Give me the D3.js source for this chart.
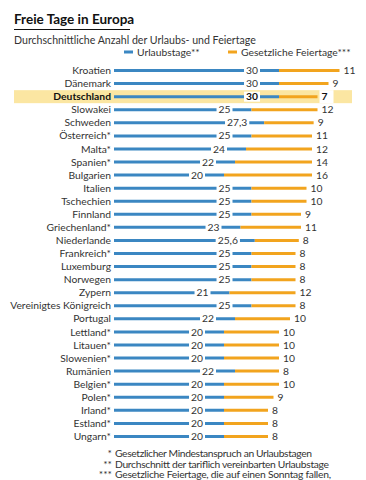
<!DOCTYPE html>
<html>
<head>
<meta charset="utf-8">
<script src="https://cdn.jsdelivr.net/npm/d3@7"></script>
<style>
  body { margin: 0; background: #fff; }
  text { font-family: Lato, "Open Sans", sans-serif; }
</style>
</head>
<body>
<div class="chart"></div>
<script>
// data
var countries = ["Kroatien", "Dänemark", "Deutschland", "Slowakei", "Schweden", "Österreich*",
  "Malta*", "Spanien*", "Bulgarien", "Italien", "Tschechien", "Finnland", "Griechenland*",
  "Niederlande", "Frankreich*", "Luxemburg", "Norwegen", "Zypern", "Vereinigtes Königreich",
  "Portugal", "Lettland*", "Litauen*", "Slowenien*", "Rumänien", "Belgien*", "Polen*",
  "Irland*", "Estland*", "Ungarn*"];
var urlaub = [30, 30, 30, 25, 27.3, 25, 24, 22, 20, 25, 25, 25, 23, 25.6, 25, 25, 25, 21, 25,
  22, 20, 20, 20, 22, 20, 20, 20, 20, 20];
var feiertage = [11, 9, 7, 12, 9, 11, 12, 14, 16, 10, 10, 9, 11, 8, 8, 8, 8, 12, 8, 10, 10, 10,
  10, 8, 10, 9, 8, 8, 8];
var highlight = "Deutschland";
var seriesNames = ["Urlaubstage**", "Gesetzliche Feiertage***"];
var notes = [["*", "Gesetzlicher Mindestanspruch an Urlaubstagen"],
  ["**", "Durchschnitt der tariflich vereinbarten Urlaubstage"],
  ["***", "Gesetzliche Feiertage, die auf einen Sonntag fallen,"]];

var blue = "#3b87c2", orange = "#f2a41e", band = "#fbe6a2";
var fs = 10.3;

var svgWidth = 366, svgHeight = 480;
var svg = d3.select(".chart").append("svg")
  .attr("width", svgWidth)
  .attr("height", svgHeight);

// title
svg.append("text")
  .attr("x", 14).attr("y", 24)
  .attr("font-size", 13.5).attr("font-weight", "bold").attr("fill", "#111")
  .text("Freie Tage in Europa");
svg.append("line")
  .attr("x1", 14).attr("x2", 130).attr("y1", 29.5).attr("y2", 29.5)
  .attr("stroke", "#111").attr("stroke-width", 1);
svg.append("text")
  .attr("x", 14).attr("y", 44)
  .attr("font-size", 10.6).attr("fill", "#333")
  .text("Durchschnittliche Anzahl der Urlaubs- und Feiertage");

// legend
var legend = svg.append("g").selectAll("g")
  .data(seriesNames)
  .enter().append("g")
  .attr("transform", (d, i) => `translate(${i ? 228 : 124}, 55.5)`);
legend.append("line")
  .attr("x1", 0).attr("x2", 9).attr("y1", -3.5).attr("y2", -3.5)
  .attr("stroke", (d, i) => i ? orange : blue).attr("stroke-width", 3);
legend.append("text")
  .attr("x", 13).attr("font-size", fs).attr("fill", "#333")
  .text(d => d);

// scales
var x = d3.scaleLinear().domain([0, 41]).range([114, 114 + 5.5 * 41]);
var y = d3.scaleBand().domain(countries).range([64, 443]).padding(0);
var bw = y.bandwidth();

var rows = svg.append("g").selectAll("g")
  .data(countries)
  .enter().append("g")
  .attr("transform", d => `translate(0, ${y(d) + bw / 2})`);

// highlight band
rows.filter(d => d === highlight).append("rect")
  .attr("x", 14).attr("y", -6.5)
  .attr("width", 352 - 14).attr("height", 13)
  .attr("fill", band);

// blue bars
rows.append("line")
  .attr("x1", x(0))
  .attr("x2", (d, i) => x(urlaub[i]))
  .attr("stroke", blue).attr("stroke-width", 3);

// orange bars
rows.append("line")
  .attr("x1", (d, i) => x(urlaub[i]))
  .attr("x2", (d, i) => x(urlaub[i] + feiertage[i]))
  .attr("stroke", orange).attr("stroke-width", 3);

// country labels
rows.append("text")
  .attr("x", 111).attr("dy", "0.35em")
  .attr("text-anchor", "end").attr("font-size", fs)
  .attr("fill", d => d === highlight ? "#111" : "#333")
  .attr("font-weight", d => d === highlight ? "bold" : "normal")
  .text(d => d);

var fmt = v => String(v).replace(".", ",");

// value labels, the blue one sits on a white box inside the bar
rows.each(function(d, i) {
  var g = d3.select(this);
  var bold = d === highlight;
  var t = g.append("text")
    .attr("x", x(urlaub[i]) - 27).attr("dy", "0.35em")
    .attr("text-anchor", "middle").attr("font-size", fs)
    .attr("font-weight", bold ? "bold" : "normal")
    .attr("fill", bold ? "#111" : "#333")
    .text(fmt(urlaub[i]));
  var b = t.node().getBBox();
  g.insert("rect", "text")
    .attr("x", b.x - 2).attr("y", -5).attr("width", b.width + 4).attr("height", 10)
    .attr("fill", "#fff");

  var t2 = g.append("text")
    .attr("x", x(urlaub[i] + feiertage[i]) + 4).attr("dy", "0.35em")
    .attr("font-size", fs)
    .attr("font-weight", bold ? "bold" : "normal")
    .attr("fill", bold ? "#111" : "#333")
    .text(fmt(feiertage[i]));
  if (bold) {
    var b2 = t2.node().getBBox();
    g.insert("rect", "text")
      .attr("x", b2.x - 2).attr("y", -6.5).attr("width", b2.width + 8).attr("height", 13)
      .attr("fill", "#fff");
  }
});

// footnotes (stretched to the reference widths, the original font is wider)
var footWidths = [197, 214, 216];
var foot = svg.append("g").selectAll("g")
  .data(notes)
  .enter().append("g")
  .attr("transform", (d, i) => `translate(0, ${457 + i * 10.5})`);
foot.append("text")
  .attr("x", 112).attr("text-anchor", "end")
  .attr("font-size", fs).attr("fill", "#333")
  .text(d => d[0]);
foot.append("text")
  .attr("x", 115)
  .attr("font-size", fs).attr("fill", "#333")
  .attr("textLength", (d, i) => footWidths[i])
  .attr("lengthAdjust", "spacing")
  .text(d => d[1]);
</script>
</body>
</html>
